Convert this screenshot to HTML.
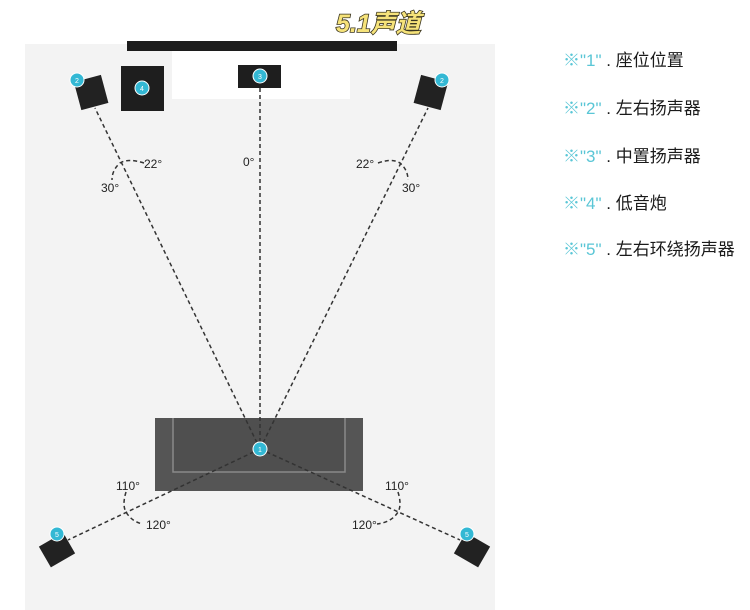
<!DOCTYPE html>
<html><head><meta charset="utf-8"><style>
body{margin:0;width:750px;height:610px;background:#fff;overflow:hidden;font-family:"Liberation Sans","Noto Sans CJK SC",sans-serif}
.lg{position:absolute;left:563px;font-size:17px;color:#1a1a1a;white-space:nowrap}
.lg span{color:#5ac6d6}
</style></head><body>
<svg width="750" height="610" style="position:absolute;left:0;top:0">
<rect x="25" y="44" width="470" height="566" fill="#f3f3f3"/>
<rect x="127" y="41" width="270" height="10" fill="#1c1c1c"/>
<rect x="172" y="51" width="178" height="48" fill="#fff"/>
<rect x="238" y="65" width="43" height="23" fill="#1e1e1e"/>
<rect x="121" y="66" width="43" height="45" fill="#1e1e1e"/>
<g transform="rotate(-15 91 92)"><rect x="77" y="78" width="28" height="29" fill="#222"/></g>
<g transform="rotate(15 431 92)"><rect x="417" y="78" width="28" height="29" fill="#222"/></g>
<rect x="155" y="418" width="208" height="73" fill="#555"/>
<path d="M173 418 V472 H345 V418" fill="#4f4f4f" stroke="#8a8a8a" stroke-width="1.5"/>
<g transform="rotate(-30 57 550)"><rect x="43" y="538" width="28" height="24" fill="#222"/></g>
<g transform="rotate(30 472 550)"><rect x="458" y="538" width="28" height="24" fill="#222"/></g>
<g stroke="#333" stroke-width="1.5" stroke-dasharray="4 3" fill="none">
<line x1="260" y1="449" x2="95" y2="108"/>
<line x1="260" y1="449" x2="260" y2="88"/>
<line x1="260" y1="449" x2="428" y2="108"/>
<line x1="260" y1="449" x2="68" y2="540"/>
<line x1="260" y1="449" x2="460" y2="540"/>
<path d="M144 163 Q128 158 120 163 Q112 170 112 180"/>
<path d="M378 163 Q392 158 400 163 Q408 170 408 180"/>
<path d="M126 492 Q122 505 126 512 Q132 522 143 524"/>
<path d="M398 492 Q402 505 398 512 Q392 522 377 524"/>
</g>
<g fill="#33b8d4" stroke="#fff" stroke-width="1">
<circle cx="260" cy="76" r="7"/><circle cx="142" cy="88" r="7"/>
<circle cx="77" cy="80" r="7"/><circle cx="442" cy="80" r="7"/>
<circle cx="260" cy="449" r="7"/><circle cx="57" cy="534" r="7"/><circle cx="467" cy="534" r="7"/>
</g>
<g font-size="7" fill="#fff" text-anchor="middle" font-family="Liberation Sans">
<text x="260" y="79">3</text><text x="142" y="91">4</text><text x="77" y="83">2</text><text x="442" y="83">2</text>
<text x="260" y="452">1</text><text x="57" y="537">5</text><text x="467" y="537">5</text>
</g>
<g font-size="12" fill="#222" font-family="Liberation Sans">
<text x="144" y="168">22°</text><text x="101" y="192">30°</text><text x="243" y="166">0°</text>
<text x="356" y="168">22°</text><text x="402" y="192">30°</text>
<text x="116" y="490">110°</text><text x="146" y="529">120°</text>
<text x="385" y="490">110°</text><text x="352" y="529">120°</text>
</g>
<text x="336" y="32" font-size="25" font-weight="bold" font-style="italic" fill="#f6e37a" stroke="#3a3520" stroke-width="1.6" paint-order="stroke" font-family="Liberation Sans,Noto Sans CJK SC,sans-serif">5.1声道</text>
</svg>
<div class="lg" style="top:46px"><span>※"1"</span> . 座位位置</div>
<div class="lg" style="top:94px"><span>※"2"</span> . 左右扬声器</div>
<div class="lg" style="top:142px"><span>※"3"</span> . 中置扬声器</div>
<div class="lg" style="top:189px"><span>※"4"</span> . 低音炮</div>
<div class="lg" style="top:235px"><span>※"5"</span> . 左右环绕扬声器</div>
</body></html>
